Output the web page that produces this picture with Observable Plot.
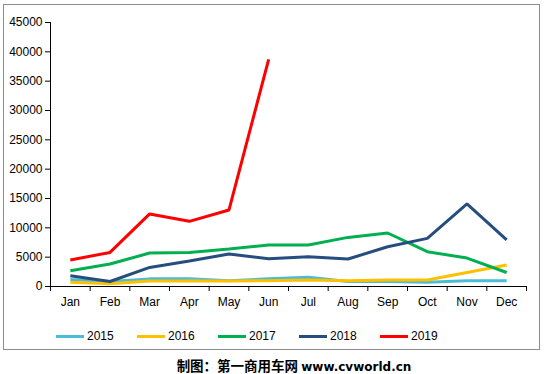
<!DOCTYPE html>
<html>
<head>
<meta charset="utf-8">
<script src="https://cdn.jsdelivr.net/npm/d3@7"></script>
<script src="https://cdn.jsdelivr.net/npm/@observablehq/plot@0.6"></script>
<style>
  html, body { margin: 0; padding: 0; background: #fff; }
  #wrap { position: relative; width: 545px; height: 374px; overflow: hidden; font-family: Arial, "Liberation Sans", sans-serif; }
  #frame { position: absolute; left: 3px; top: 4px; width: 537px; height: 346px; border: 1.5px solid #8c8c8c; box-sizing: border-box; }
  #chart { position: absolute; left: 0; top: 0; }
  #legend { position: absolute; left: 0; top: 328px; width: 545px; height: 18px; }
  .li { position: absolute; top: 0; font-size: 12px; color: #000; line-height: 16px; }
  .li .sw { position: absolute; top: 6.5px; left: 0; width: 28px; height: 3px; }
  .li span.t { position: absolute; left: 31px; top: 0; }
  #caption { position: absolute; left: 0; top: 356px; width: 588px; text-align: center; font-size: 13.5px; font-weight: bold; color: #000; font-family: "Noto Sans CJK SC", Arial, sans-serif; line-height: 18px; white-space: nowrap; }
  #caption .en { font-family: "DejaVu Sans", Verdana, sans-serif; font-size: 12px; }
</style>
</head>
<body>
<div id="wrap">
  <div id="frame"></div>
  <div id="chart"></div>
  <div id="legend"></div>
  <div id="caption">制图：第一商用车网 <span class="en">www.cvworld.cn</span></div>
</div>
<script>
const months = ["Jan","Feb","Mar","Apr","May","Jun","Jul","Aug","Sep","Oct","Nov","Dec"];
const years = ["2015","2016","2017","2018","2019"];
const colors = ["#4BBCD8","#FFC000","#00B050","#254E7E","#FF0000"];
const v2015 = [1200, 850, 1300, 1300, 1000, 1300, 1580, 850, 850, 740, 1000, 1000];
const v2016 = [740, 460, 940, 940, 940, 1000, 1100, 1000, 1100, 1100, 2380, 3650];
const v2017 = [2680, 3830, 5700, 5810, 6390, 7070, 7070, 8370, 9120, 5930, 4850, 2390];
const v2018 = [1830, 850, 3250, 4340, 5540, 4730, 5070, 4680, 6780, 8200, 14080, 7930];
const v2019 = [4510, 5810, 12370, 11110, 13050, 38730];
const yTicks = [0,5000,10000,15000,20000,25000,30000,35000,40000,45000];

const series = [v2015, v2016, v2017, v2018, v2019];
const data = [];
series.forEach((vals, si) => vals.forEach((v, i) => data.push({year: years[si], m: i, month: months[i], value: v})));
const bounds = d3.range(-0.5, 12, 1);

const plot = Plot.plot({
  width: 545,
  height: 322,
  marginLeft: 50,
  marginRight: 19,
  marginTop: 22,
  marginBottom: 36,
  style: { fontFamily: "Arial, 'Liberation Sans', sans-serif", fontSize: "12px", color: "#000", background: "transparent" },
  x: { type: "linear", domain: [-0.5, 11.5], axis: null },
  y: { type: "linear", domain: [0, 45000], axis: null },
  color: { domain: years, range: colors },
  marks: [
    Plot.axisY({ticks: yTicks, tickSize: 5, tickPadding: 3, tickFormat: d => String(d), fontSize: 12, label: null, stroke: "#000"}),
    Plot.ruleX([-0.5], {stroke: "#000"}),
    Plot.ruleY([0], {stroke: "#000"}),
    Plot.axisX({ticks: bounds, tickSize: 5, tickFormat: () => "", label: null, stroke: "#000"}),
    Plot.text(months, {x: (d, i) => i, y: () => 0, text: d => d, dy: 16, fontSize: 12, fill: "#000"}),
    Plot.line(data, {x: "m", y: "value", z: "year", stroke: "year", strokeWidth: 3, strokeLinejoin: "miter", strokeLinecap: "butt"})
  ]
});
document.getElementById("chart").appendChild(plot);

const legend = document.getElementById("legend");
const lx = [56, 137, 218, 299, 380];
years.forEach((y, i) => {
  const d = document.createElement("div");
  d.className = "li";
  d.style.left = lx[i] + "px";
  d.innerHTML = `<div class="sw" style="background:${colors[i]}"></div><span class="t">${y}</span>`;
  legend.appendChild(d);
});
</script>
</body>
</html>
